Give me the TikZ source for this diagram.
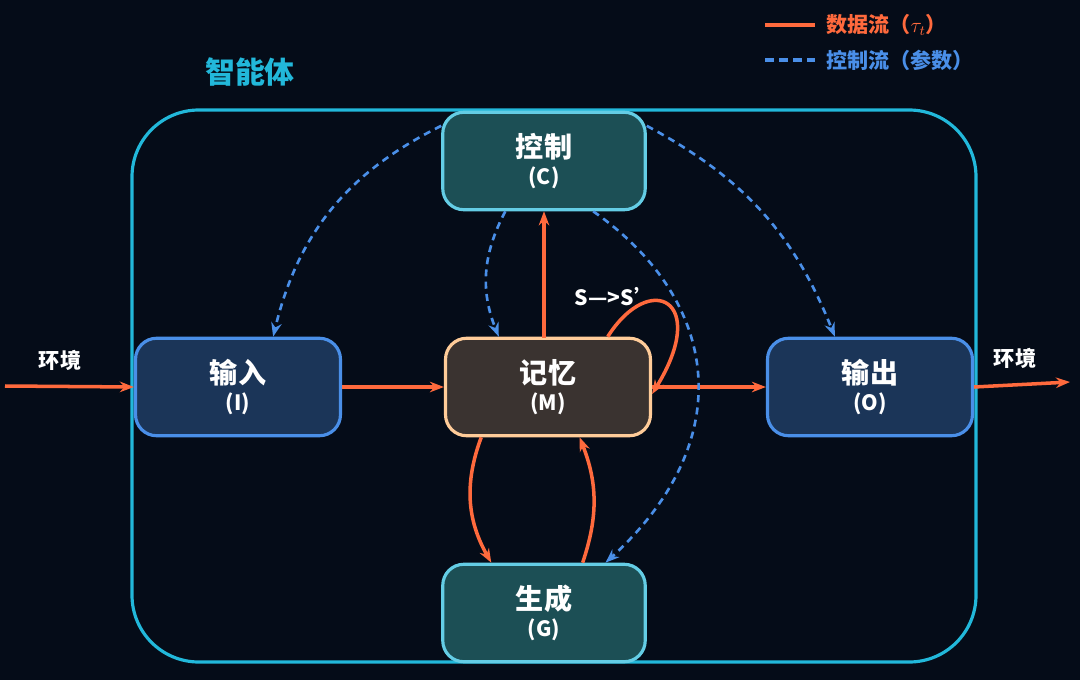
\documentclass[tikz,border=0pt]{standalone}
\usepackage{fontspec}
\setmainfont{Noto Sans CJK SC}
\usetikzlibrary{arrows.meta}
\definecolor{bgnavy}{HTML}{050C18}
\definecolor{frame}{HTML}{22B8DA}
\definecolor{flow}{HTML}{FF6A3D}
\definecolor{ctrl}{HTML}{4A8FE8}
\definecolor{tealbox}{HTML}{1C4F55}
\definecolor{bluebox}{HTML}{1B3558}
\definecolor{memfill}{HTML}{3A3330}
\tikzset{
  box/.style={rounded corners=12pt,line width=1.8pt,minimum width=4.1cm,minimum height=1.95cm,align=center,text=white,font=\fontsize{16}{18}\selectfont\bfseries},
  sub/.style={font=\fontsize{12}{14}\selectfont\bfseries},
  data/.style={flow,line width=2pt,-{Stealth[length=8pt]}},
  control/.style={ctrl,line width=1.5pt,dash pattern=on 4pt off 3pt,-{Stealth[length=8pt]}}
}
\begin{document}
\begin{tikzpicture}[x=0.02cm,y=-0.02cm]
		\fill [bgnavy] (0,0) rectangle (1080,680);
		\draw [frame,line width=1.8pt,rounded corners=38pt] (132,110) rectangle (976,662);
		\node [text=frame,font=\fontsize{17}{20}\selectfont\bfseries] (agent) at (250,72) {智能体};
		%
		\node [box,draw=frame!70!white,fill=tealbox,minimum width=4.05cm] (ctl) at (544,161) {控制\\[-3pt]{\fontsize{12}{14}\selectfont (C)}};
		\node [box,draw=ctrl,fill=bluebox] (inp) at (238,387) {输入\\[-3pt]{\fontsize{12}{14}\selectfont (I)}};
		\node [box,draw=orange!40!white,fill=memfill] (mem) at (548,387) {记忆\\[-3pt]{\fontsize{12}{14}\selectfont (M)}};
		\node [box,draw=ctrl,fill=bluebox] (out) at (870,387) {输出\\[-3pt]{\fontsize{12}{14}\selectfont (O)}};
		\node [box,draw=frame!70!white,fill=tealbox,minimum width=4.05cm] (gen) at (544,613) {生成\\[-3pt]{\fontsize{12}{14}\selectfont (G)}};
		%
		\node [text=white,sub] (envl) at (60,360) {环境};
		\node [text=white,sub] (envr) at (1015,358) {环境};
		\coordinate (envin) at (5,386);
		\coordinate (envout) at (1070,382);
		\coordinate (mtop) at (544,338);
		\draw [data] (envin) -- (inp.west);
		\draw [data] (inp.east) -- (mem.west);
		\draw [data] (mem.east) -- (out.west);
		\draw [data] (out.east) -- (envout);
		\draw [data] (mtop) -- (ctl.south);
		\draw [data] ([xshift=-38pt]mem.south) to[bend right=25] ([xshift=-30pt]gen.north);
		\draw [data] ([xshift=22pt]gen.north) to[bend right=20] ([xshift=18pt]mem.south);
		\node [text=white,sub] (swap) at (615,297) {S—>S'};
		\draw [data] ([xshift=34pt]mem.north) .. controls (650,270) and (710,300) .. ([yshift=-4pt]mem.east);
		%
		\draw [control] ([yshift=20pt]ctl.west) to[bend right=25] ([xshift=20pt]inp.north);
		\draw [control] ([xshift=-22pt]ctl.south) to[bend right=25] ([xshift=-28pt]mem.north);
		\draw [control] ([yshift=20pt]ctl.east) to[bend left=20] ([xshift=-20pt]out.north);
		\draw [control] ([xshift=28pt]ctl.south) .. controls (720,300) and (740,440) .. ([xshift=35pt]gen.north);
		%
		\coordinate (lega) at (765,25);
		\coordinate (legb) at (815,25);
		\coordinate (legc) at (765,60);
		\coordinate (legd) at (815,60);
		\draw [flow,line width=2.5pt] (lega) -- (legb);
		\draw [ctrl,line width=1.8pt,dash pattern=on 5pt off 3pt] (legc) -- (legd);
		\node [text=flow,anchor=west,sub] (legdata) at (820,25) {数据流（$\tau_t$）};
		\node [text=ctrl,anchor=west,sub] (legctrl) at (820,60) {控制流（参数）};
\end{tikzpicture}
\end{document}
